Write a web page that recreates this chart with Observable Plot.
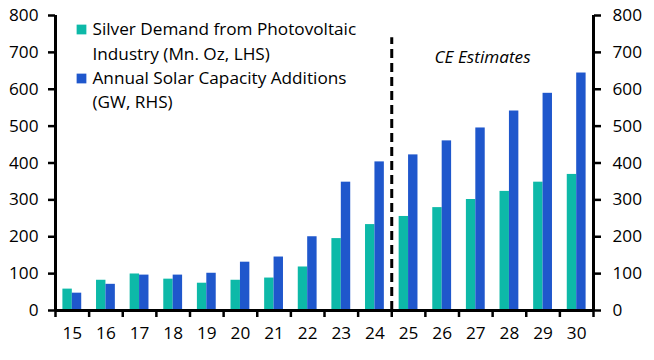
<!DOCTYPE html>
<html>
<head>
<meta charset="utf-8">
<script src="https://cdn.jsdelivr.net/npm/d3@7"></script>
<script src="https://cdn.jsdelivr.net/npm/@observablehq/plot@0.6"></script>
<style>
  html, body { margin: 0; padding: 0; background: #fff; }
  #chart svg { display: block; }
</style>
</head>
<body>
<div id="chart"></div>
<script>
const years = [15,16,17,18,19,20,21,22,23,24,25,26,27,28,29,30];
const silverDemand = [58,82,99,85,74,82,88,118,195,233,255,279,301,323,348,369];
const solarAdditions = [47,71,96,96,101,131,145,200,348,403,422,460,495,541,589,644];
const yTicks = [0,100,200,300,400,500,600,700,800];
const legendLabels = ["Silver Demand from Photovoltaic", "Industry (Mn. Oz, LHS)", "Annual Solar Capacity Additions", "(GW, RHS)"];
const estimateLabel = "CE Estimates";
const estimateStart = 24.5;
const estimateTop = 740;

const teal = "#0DB9A8";
const blue = "#1F57CC";
const font = "Open Sans";
const fs = 17.2;

const silver = years.map((y, i) => ({year: y, value: silverDemand[i]}));
const solar = years.map((y, i) => ({year: y, value: solarAdditions[i]}));
const boundaries = [years[0] - 0.5, ...years.map(y => y + 0.5)];
const half = 0.28;

const chart = Plot.plot({
  width: 654,
  height: 360,
  marginLeft: 55,
  marginRight: 61,
  marginTop: 15,
  marginBottom: 50,
  style: {fontFamily: font, fontSize: fs + "px", color: "#000", background: "#fff"},
  x: {type: "linear", domain: [boundaries[0], boundaries[boundaries.length - 1]]},
  y: {domain: [0, 800]},
  marks: [
    Plot.rectY(silver, {x1: d => d.year - half, x2: d => d.year, y: "value", fill: teal}),
    Plot.rectY(solar, {x1: d => d.year, x2: d => d.year + half, y: "value", fill: blue}),
    Plot.ruleX([estimateStart], {y1: 0, y2: estimateTop, stroke: "#000", strokeWidth: 3, strokeDasharray: "9,5"}),
    Plot.text([estimateLabel], {x: 27.2, y: 686, text: d => d, fontStyle: "italic", fontSize: fs, textAnchor: "middle"}),
    Plot.axisY({anchor: "left", ticks: yTicks, tickSize: 7, tickPadding: 10, strokeWidth: 2.5, fontSize: fs, label: null}),
    Plot.axisY({anchor: "right", ticks: yTicks, tickSize: 7, tickPadding: 12, strokeWidth: 2.5, fontSize: fs, label: null}),
    Plot.axisX({ticks: years, tickSize: 0, tickPadding: 16, fontSize: fs, tickFormat: d => String(d), label: null}),
    Plot.axisX({ticks: boundaries, tickSize: 7, strokeWidth: 2.5, tickFormat: () => "", label: null}),
    Plot.ruleX([boundaries[0]], {stroke: "#000", strokeWidth: 3}),
    Plot.ruleX([boundaries[boundaries.length - 1]], {stroke: "#000", strokeWidth: 3}),
    Plot.ruleY([0], {stroke: "#000", strokeWidth: 3}),
    Plot.dot([0], {frameAnchor: "top-left", dx: 26, dy: 14, symbol: "square", r: 5.5, fill: teal, stroke: null}),
    Plot.dot([0], {frameAnchor: "top-left", dx: 26, dy: 63, symbol: "square", r: 5.5, fill: blue, stroke: null}),
    Plot.text([legendLabels[0]], {frameAnchor: "top-left", dx: 37, dy: 14, text: d => d, textAnchor: "start", lineAnchor: "middle", fontSize: fs}),
    Plot.text([legendLabels[1]], {frameAnchor: "top-left", dx: 37, dy: 39, text: d => d, textAnchor: "start", lineAnchor: "middle", fontSize: fs}),
    Plot.text([legendLabels[2]], {frameAnchor: "top-left", dx: 37, dy: 63, text: d => d, textAnchor: "start", lineAnchor: "middle", fontSize: fs}),
    Plot.text([legendLabels[3]], {frameAnchor: "top-left", dx: 37, dy: 87, text: d => d, textAnchor: "start", lineAnchor: "middle", fontSize: fs})
  ]
});
document.getElementById("chart").appendChild(chart);
</script>
</body>
</html>
